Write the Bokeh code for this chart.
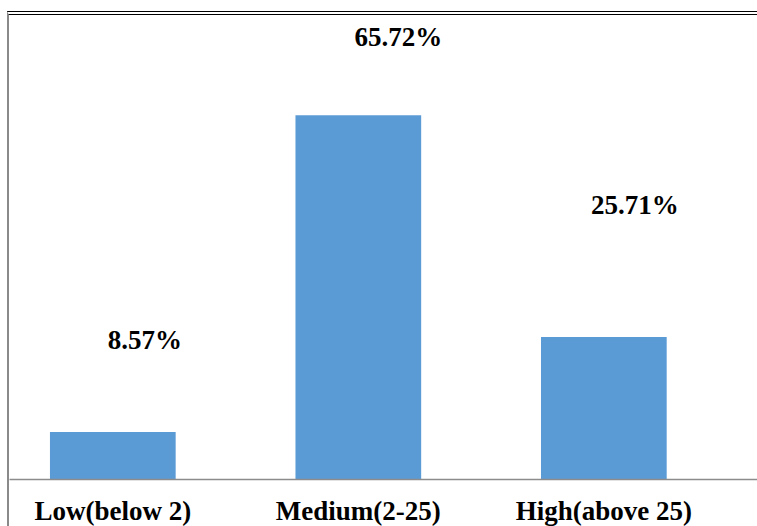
from bokeh.plotting import figure
from bokeh.models import Range1d, FixedTicker, ColumnDataSource
from bokeh.core.properties import value
from bokeh.embed import file_html
from bokeh.resources import INLINE

categories = ["Low(below 2)", "Medium(2-25)", "High(above 25)"]
percent = [8.57, 65.72, 25.71]
labels = ["8.57%", "65.72%", "25.71%"]

# label placement styles (pixels)
label_dx = [32, 40, 31]
label_dy = [-92, -78, -132]

xs = list(range(len(categories)))
src = ColumnDataSource(dict(x=xs, top=percent, lab=labels, dx=label_dx, dy=label_dy))

p = figure(width=748, height=511, output_backend="svg", toolbar_location=None,
           x_range=Range1d(-0.4208, 2.634), y_range=Range1d(0, 83.74),
           min_border_left=0, min_border_right=0, min_border_top=0, min_border_bottom=51,
           outline_line_color=None,
           background_fill_color="white", border_fill_color="white")
p.xgrid.visible = False
p.ygrid.visible = False
p.yaxis.visible = False
p.styles = {
    "box-sizing": "content-box",
    "overflow": "hidden",
    "vertical-align": "top",
    "margin-left": "7px",
    "margin-top": "11px",
    "margin-bottom": "-6px",
    "border-left": "2px solid #8a8a8a",
    "border-top": "4px double #000000",
}

p.vbar(x="x", top="top", width=0.512, source=src, fill_color="#5B9BD5", line_color=None)
p.text(x="x", y="top", text="lab", x_offset="dx", y_offset="dy", source=src,
       text_align="center", text_baseline="middle",
       text_font=value("Liberation Serif"), text_font_style="bold",
       text_font_size="27px", text_color="black")

ax = p.xaxis[0]
ax.ticker = FixedTicker(ticks=xs)
ax.major_label_overrides = {i: c for i, c in enumerate(categories)}
ax.axis_line_color = "#8c8c8c"
ax.axis_line_width = 1.3
ax.major_tick_line_color = None
ax.minor_tick_line_color = None
ax.major_tick_out = 0
ax.major_tick_in = 0
ax.major_label_standoff = 16
ax.major_label_text_line_height = 0.85
ax.major_label_text_font = "Liberation Serif"
ax.major_label_text_font_style = "bold"
ax.major_label_text_font_size = "27px"
ax.major_label_text_color = "black"

open("out.html", "w").write(file_html(p, INLINE))
